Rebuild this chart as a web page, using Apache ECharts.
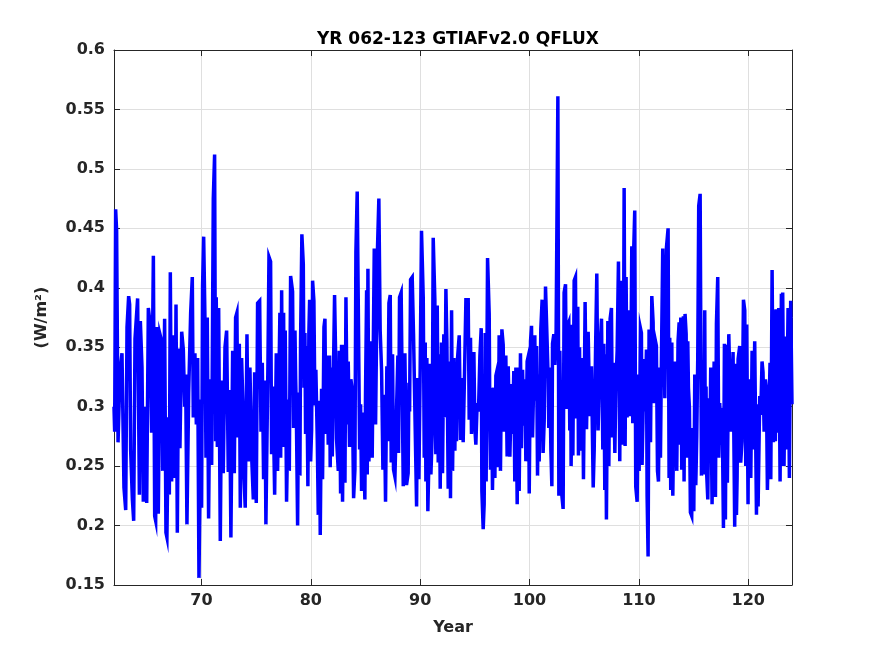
<!DOCTYPE html>
<html>
<head>
<meta charset="utf-8">
<script src="https://cdn.jsdelivr.net/npm/echarts@6/dist/echarts.min.js"></script>
<style>
  html, body { margin: 0; padding: 0; background: #fff; }
  #main { width: 875px; height: 656px; }
</style>
</head>
<body>
<div id="main"></div>
<script>
// model year of each reading (peaks and troughs)
var years = [
    62.00, 62.06, 62.15, 62.24, 62.37, 62.55, 62.73, 62.91, 63.07, 63.19, 63.34, 63.43, 63.52, 63.68, 63.80, 63.92,
    64.16, 64.32, 64.41, 64.56, 64.68, 64.86, 64.99, 65.14, 65.29, 65.44, 65.60, 65.72, 65.81, 65.93, 66.05, 66.20,
    66.36, 66.45, 66.63, 66.75, 66.84, 66.97, 67.06, 67.15, 67.27, 67.42, 67.58, 67.67, 67.79, 67.91, 68.03, 68.19,
    68.34, 68.46, 68.55, 68.67, 68.83, 69.01, 69.16, 69.25,
    69.40, 69.53, 69.65, 69.77, 69.89, 69.95, 70.01, 70.10, 70.20, 70.32, 70.41, 70.53, 70.65, 70.77, 70.93, 71.08,
    71.20, 71.29, 71.35, 71.45, 71.57, 71.72, 71.84, 71.99, 72.15, 72.30, 72.45, 72.57, 72.69, 72.85, 73.00, 73.12,
    73.24, 73.33, 73.46, 73.55, 73.67, 73.79, 73.88, 74.00, 74.16, 74.28, 74.43, 74.58, 74.74, 74.86, 75.01, 75.13,
    75.32, 75.44, 75.56, 75.68, 75.80, 75.89, 75.99, 76.08, 76.17, 76.32, 76.41, 76.53, 76.69, 76.84, 76.96,
    77.17, 77.24, 77.33, 77.42, 77.51, 77.57, 77.66, 77.78, 77.94, 78.03, 78.15, 78.33, 78.42, 78.55, 78.61, 78.67,
    78.79, 78.88, 79.00, 79.06, 79.18, 79.31, 79.37, 79.46, 79.52, 79.61, 79.73, 79.82, 79.89, 79.98, 80.07, 80.16,
    80.28, 80.37, 80.46, 80.59, 80.68, 80.77, 80.86, 80.98, 81.07, 81.20, 81.29, 81.38, 81.50, 81.59, 81.71, 81.77,
    81.87, 81.96, 82.05, 82.17, 82.26, 82.35, 82.51, 82.60, 82.72, 82.81, 82.90, 83.02, 83.12, 83.21, 83.33, 83.42,
    83.54, 83.66, 83.79, 83.91, 84.03, 84.12, 84.24, 84.37, 84.46, 84.55, 84.64, 84.76,
    84.94, 85.00, 85.10, 85.16, 85.22, 85.31, 85.49, 85.61, 85.80, 85.92, 86.10, 86.22, 86.34, 86.47, 86.59, 86.71,
    86.83, 86.95, 87.02, 87.14, 87.26, 87.35, 87.47, 87.56, 87.69, 87.84, 87.96, 88.02, 88.11, 88.26, 88.36, 88.45,
    88.60, 88.75, 88.90, 88.97, 89.03, 89.12, 89.27, 89.39, 89.51, 89.67, 89.76, 89.88, 90.00, 90.12, 90.28, 90.37,
    90.46, 90.52, 90.61, 90.70, 90.79, 90.89, 90.98, 91.10, 91.19, 91.34, 91.43, 91.56, 91.65, 91.74, 91.83, 91.95,
    92.04, 92.16, 92.26, 92.35, 92.44, 92.56,
    92.71, 92.77, 92.87, 92.96, 93.08, 93.17, 93.26, 93.32, 93.41, 93.57, 93.69, 93.81, 93.93, 94.05, 94.18, 94.39,
    94.48, 94.60, 94.69, 94.79, 94.91, 95.00, 95.09, 95.21, 95.33, 95.46, 95.58, 95.64, 95.76, 95.85, 95.94, 96.03,
    96.16, 96.31, 96.37, 96.43, 96.52, 96.61, 96.74, 96.83, 96.92, 97.04, 97.13, 97.22, 97.34, 97.47, 97.59, 97.68,
    97.83, 97.95, 98.05, 98.20, 98.35, 98.44, 98.56, 98.65, 98.75, 98.87, 98.96, 99.05, 99.17, 99.26, 99.36, 99.48,
    99.60, 99.66, 99.78, 99.90, 99.97, 100.09, 100.18, 100.27,
    100.48, 100.54, 100.64, 100.73, 100.82, 100.88, 100.94, 101.03, 101.15, 101.24, 101.34, 101.46, 101.58, 101.70, 101.76, 101.85,
    101.95, 102.04, 102.10, 102.22, 102.31, 102.43, 102.59, 102.68, 102.77, 102.92, 103.07, 103.16, 103.29, 103.38, 103.47, 103.59,
    103.68, 103.74, 103.80, 103.90, 103.96, 104.08, 104.20, 104.29, 104.41, 104.47, 104.57, 104.66, 104.78, 104.84, 104.93, 105.08,
    105.21, 105.36, 105.51, 105.66, 105.82, 105.91, 106.03, 106.15, 106.27, 106.42, 106.58, 106.70, 106.79, 106.88, 106.94, 107.03,
    107.16, 107.25, 107.37, 107.49, 107.58, 107.67, 107.80, 107.89, 108.01, 108.13,
    108.25, 108.34, 108.43, 108.50, 108.56, 108.65, 108.74, 108.83, 108.92, 109.11, 109.23, 109.35, 109.44, 109.53, 109.62, 109.71,
    109.84, 109.93, 110.02, 110.14, 110.23, 110.29, 110.39, 110.48, 110.57, 110.69, 110.75, 110.84, 110.93, 111.06, 111.18, 111.30,
    111.36, 111.45, 111.60, 111.70, 111.79, 111.88, 111.97, 112.06, 112.18, 112.27, 112.37, 112.52, 112.67, 112.76, 112.82, 112.91,
    113.01, 113.10, 113.19, 113.28, 113.40, 113.46, 113.58, 113.68, 113.74, 113.83, 113.92, 113.98, 114.07, 114.13, 114.22, 114.32,
    114.38, 114.47, 114.53, 114.62, 114.71, 114.83, 114.93, 115.02, 115.11, 115.20, 115.29, 115.38, 115.47, 115.60, 115.72, 115.81,
    115.93,
    116.02, 116.08, 116.14, 116.20, 116.30, 116.39, 116.48, 116.57, 116.69, 116.88, 117.00, 117.09, 117.21, 117.30, 117.39, 117.48,
    117.61, 117.73, 117.82, 117.91, 118.00, 118.09, 118.22, 118.31, 118.40, 118.49, 118.61, 118.76, 118.86, 118.92, 118.98, 119.07,
    119.22, 119.31, 119.43, 119.56, 119.68, 119.77, 119.86, 119.98, 120.04, 120.14, 120.23, 120.35, 120.44, 120.59, 120.75, 120.84,
    120.90, 121.05, 121.14, 121.26, 121.35, 121.45, 121.57, 121.66, 121.75, 121.87, 121.99, 122.06, 122.18, 122.30, 122.42, 122.48,
    122.54, 122.66, 122.79, 122.91, 123.03, 123.09, 123.15, 123.27, 123.40, 123.49, 123.64, 123.76, 123.88, 124.00
];

// QFLUX (W/m^2) at each of those years
var qflux = [
    0.300, 0.279, 0.466, 0.448, 0.270, 0.330, 0.345, 0.232, 0.213, 0.367, 0.393, 0.386, 0.264, 0.222, 0.204, 0.357,
    0.391, 0.226, 0.372, 0.333, 0.220, 0.300, 0.219, 0.383, 0.371, 0.278, 0.427, 0.208, 0.204, 0.367, 0.210, 0.361,
    0.355, 0.246, 0.374, 0.194, 0.190, 0.291, 0.226, 0.413, 0.237, 0.360, 0.240, 0.386, 0.194, 0.349, 0.265, 0.363,
    0.348, 0.300, 0.327, 0.201, 0.312, 0.379, 0.409, 0.291,
    0.345, 0.285, 0.341, 0.156, 0.253, 0.306, 0.215, 0.402, 0.443, 0.372, 0.257, 0.375, 0.206, 0.323, 0.251, 0.475,
    0.512, 0.271, 0.392, 0.266, 0.383, 0.187, 0.322, 0.244, 0.350, 0.364, 0.245, 0.314, 0.190, 0.347, 0.244, 0.375,
    0.379, 0.274, 0.353, 0.215, 0.341, 0.300, 0.243, 0.215, 0.361, 0.254, 0.333, 0.260, 0.222, 0.329, 0.219, 0.387,
    0.389, 0.279, 0.337, 0.239, 0.322, 0.201, 0.274, 0.338, 0.426, 0.422, 0.260, 0.317, 0.226, 0.345, 0.246,
    0.379, 0.257, 0.398, 0.266, 0.379, 0.271, 0.364, 0.220, 0.306, 0.246, 0.410, 0.397, 0.282, 0.364, 0.324, 0.299,
    0.200, 0.312, 0.242, 0.355, 0.445, 0.420, 0.316, 0.362, 0.277, 0.351, 0.233, 0.362, 0.390, 0.254, 0.280, 0.406,
    0.389, 0.301, 0.331, 0.271, 0.209, 0.305, 0.192, 0.315, 0.239, 0.367, 0.374, 0.277, 0.343, 0.268, 0.343, 0.249,
    0.333, 0.258, 0.320, 0.394, 0.347, 0.273, 0.246, 0.347, 0.227, 0.352, 0.220, 0.352, 0.236, 0.392, 0.285, 0.338,
    0.266, 0.323, 0.314, 0.223, 0.247, 0.430, 0.481, 0.355, 0.264, 0.302, 0.229, 0.295,
    0.222, 0.310, 0.398, 0.243, 0.416, 0.254, 0.355, 0.257, 0.433, 0.285, 0.435, 0.475, 0.364, 0.330, 0.247, 0.310,
    0.220, 0.334, 0.271, 0.387, 0.394, 0.253, 0.344, 0.247, 0.241, 0.299, 0.343, 0.261, 0.392, 0.396, 0.310, 0.233,
    0.345, 0.234, 0.244, 0.320, 0.296, 0.407, 0.409, 0.361, 0.299, 0.216, 0.324, 0.239, 0.333, 0.448, 0.391, 0.257,
    0.354, 0.237, 0.341, 0.212, 0.253, 0.336, 0.243, 0.277, 0.442, 0.390, 0.260, 0.385, 0.253, 0.344, 0.231, 0.354,
    0.244, 0.361, 0.291, 0.399, 0.355, 0.231,
    0.338, 0.223, 0.381, 0.246, 0.341, 0.263, 0.331, 0.271, 0.340, 0.360, 0.272, 0.324, 0.270, 0.326, 0.390, 0.390,
    0.289, 0.358, 0.277, 0.331, 0.346, 0.282, 0.268, 0.303, 0.296, 0.343, 0.366, 0.229, 0.197, 0.218, 0.362, 0.237,
    0.425, 0.378, 0.287, 0.247, 0.316, 0.230, 0.316, 0.240, 0.326, 0.331, 0.249, 0.360, 0.246, 0.365, 0.352, 0.279,
    0.343, 0.258, 0.334, 0.258, 0.319, 0.277, 0.330, 0.237, 0.333, 0.218, 0.333, 0.229, 0.345, 0.265, 0.331, 0.284,
    0.323, 0.254, 0.338, 0.343, 0.227, 0.355, 0.368, 0.274,
    0.360, 0.305, 0.351, 0.242, 0.327, 0.254, 0.288, 0.365, 0.390, 0.261, 0.288, 0.401, 0.402, 0.325, 0.282, 0.333,
    0.264, 0.233, 0.353, 0.361, 0.335, 0.364, 0.561, 0.225, 0.347, 0.229, 0.214, 0.396, 0.403, 0.298, 0.368, 0.371,
    0.280, 0.369, 0.250, 0.332, 0.259, 0.406, 0.409, 0.290, 0.384, 0.259, 0.350, 0.263, 0.273, 0.341, 0.239, 0.388,
    0.281, 0.363, 0.292, 0.334, 0.232, 0.263, 0.344, 0.412, 0.280, 0.344, 0.374, 0.264, 0.353, 0.230, 0.344, 0.205,
    0.372, 0.250, 0.374, 0.383, 0.274, 0.337, 0.261, 0.316, 0.347, 0.422,
    0.254, 0.406, 0.291, 0.378, 0.268, 0.484, 0.267, 0.409, 0.291, 0.381, 0.292, 0.435, 0.286, 0.434, 0.465, 0.233,
    0.220, 0.327, 0.246, 0.366, 0.362, 0.251, 0.299, 0.340, 0.296, 0.348, 0.225, 0.174, 0.365, 0.270, 0.393, 0.371,
    0.303, 0.358, 0.351, 0.246, 0.237, 0.333, 0.257, 0.340, 0.433, 0.386, 0.307, 0.434, 0.450, 0.240, 0.358, 0.230,
    0.354, 0.225, 0.288, 0.338, 0.324, 0.246, 0.355, 0.371, 0.268, 0.375, 0.247, 0.279, 0.376, 0.237, 0.378, 0.361,
    0.257, 0.355, 0.316, 0.299, 0.211, 0.208, 0.282, 0.212, 0.327, 0.234, 0.275, 0.340, 0.469, 0.479, 0.242, 0.299,
    0.243,
    0.381, 0.250, 0.317, 0.243, 0.222, 0.307, 0.262, 0.333, 0.218, 0.338, 0.224, 0.370, 0.409, 0.257, 0.303, 0.268,
    0.299, 0.198, 0.353, 0.205, 0.352, 0.236, 0.361, 0.326, 0.279, 0.293, 0.346, 0.199, 0.336, 0.209, 0.240, 0.340,
    0.351, 0.253, 0.271, 0.390, 0.381, 0.250, 0.369, 0.218, 0.323, 0.271, 0.240, 0.347, 0.264, 0.355, 0.209, 0.302,
    0.216, 0.309, 0.293, 0.338, 0.329, 0.279, 0.323, 0.315, 0.230, 0.282, 0.337, 0.239, 0.415, 0.270, 0.381, 0.271,
    0.382, 0.278, 0.383, 0.237, 0.395, 0.250, 0.396, 0.250, 0.359, 0.264, 0.383, 0.240, 0.389, 0.302
];

var xTicks = [70, 80, 90, 100, 110, 120];
var titleText = 'YR 062-123 GTIAFv2.0 QFLUX';
var xName = 'Year';
var yName = '(W/m²)';

var points = [];
for (var i = 0; i < years.length; i++) {
    points.push([years[i], qflux[i]]);
};

var font = 'DejaVu Sans';
var txt = '#262626';
var myChart = echarts.init(document.getElementById('main'));

var gridLine = { show: true, lineStyle: { color: '#dfdfdf', width: 1 } };
var boxLine = { show: true, onZero: false, lineStyle: { color: '#262626', width: 1 } };
var inTick = { show: true, inside: true, length: 6, lineStyle: { color: '#262626' } };
var xTick = { show: true, inside: true, length: 6, lineStyle: { color: '#262626' }, customValues: xTicks };

var option = {
    animation: false,
    backgroundColor: '#fff',
    title: {
        text: titleText,
        left: 453, top: 26, textAlign: 'center',
        textStyle: { fontFamily: font, fontSize: 17, fontWeight: 'bold', color: '#000' }
    },
    grid: { left: 114, right: 83, top: 50, bottom: 71, containLabel: false },
    xAxis: [{
        type: 'value', min: 62, max: 124,
        name: xName, nameLocation: 'middle', nameGap: 35,
        nameTextStyle: { fontFamily: font, fontSize: 16, fontWeight: 'bold', color: txt },
        axisLine: boxLine, axisTick: xTick, splitLine: gridLine,
        axisLabel: {
            customValues: xTicks, margin: 8,
            fontFamily: font, fontSize: 16, fontWeight: 'bold', color: txt
        }
    }, {
        type: 'value', position: 'top', min: 62, max: 124,
        axisLine: boxLine, axisTick: xTick, splitLine: { show: false },
        axisLabel: { show: false }
    }],
    yAxis: [{
        type: 'value', min: 0.15, max: 0.6, interval: 0.05,
        name: yName, nameLocation: 'middle', nameGap: 64,
        nameTextStyle: { fontFamily: font, fontSize: 16, fontWeight: 'bold', color: txt },
        axisLine: boxLine, axisTick: inTick, splitLine: gridLine,
        axisLabel: {
            margin: 9, fontFamily: font, fontSize: 16, fontWeight: 'bold', color: txt,
            formatter: function (v) { return String(+v.toFixed(2)); }
        }
    }, {
        type: 'value', position: 'right', min: 0.15, max: 0.6, interval: 0.05,
        axisLine: boxLine, axisTick: inTick, splitLine: { show: false },
        axisLabel: { show: false }
    }],
    series: [{
        type: 'line',
        data: points,
        showSymbol: false,
        symbol: 'none',
        lineStyle: { color: '#0000ff', width: 3.5, join: 'miter' },
        clip: true
    }]
};
myChart.setOption(option);
</script>
</body>
</html>
